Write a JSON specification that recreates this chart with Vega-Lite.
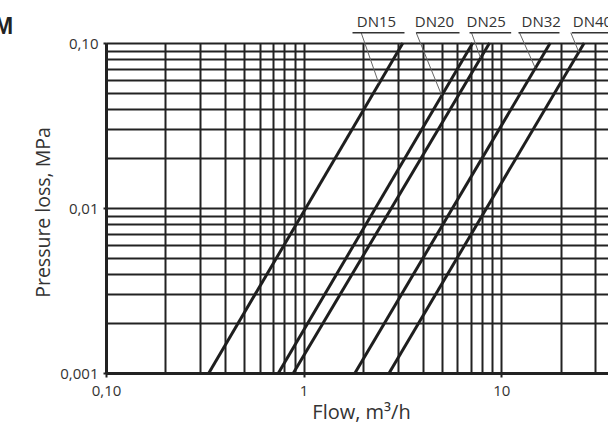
{
  "$schema": "https://vega.github.io/schema/vega-lite/v6.json",
  "width": 510,
  "height": 330,
  "autosize": "none",
  "padding": {"left": 106, "top": 43, "right": 0, "bottom": 51},
  "background": "white",
  "view": {"stroke": null},
  "title": {"text": "M", "anchor": "start", "frame": "group", "dx": -112, "dy": 24, "fontSize": 23, "font": "Liberation Sans", "fontWeight": "bold", "color": "#222", "offset": 0},
  "datasets": {
    "curves": [
      {"s": "DN15", "q": 0.3315, "p": 0.001}, {"s": "DN15", "q": 3.18, "p": 0.1},
      {"s": "DN20", "q": 0.746, "p": 0.001}, {"s": "DN20", "q": 7.17, "p": 0.1},
      {"s": "DN25", "q": 0.888, "p": 0.001}, {"s": "DN25", "q": 8.73, "p": 0.1},
      {"s": "DN32", "q": 1.82, "p": 0.001}, {"s": "DN32", "q": 17.7, "p": 0.1},
      {"s": "DN40", "q": 2.71, "p": 0.001}, {"s": "DN40", "q": 26.3, "p": 0.1}
    ],
    "labels": [
      {"s": "DN15", "tq": 2.339, "tp": 0.1255, "uq1": 1.768, "uq2": 3.24, "up": 0.1154, "lq1": 1.956, "lp1": 0.1154, "lq2": 2.4, "lp2": 0.057},
      {"s": "DN20", "tq": 4.597, "tp": 0.1255, "uq1": 3.714, "uq2": 6.152, "up": 0.1154, "lq1": 3.714, "lp1": 0.1154, "lq2": 4.989, "lp2": 0.04841},
      {"s": "DN25", "tq": 8.395, "tp": 0.1255, "uq1": 6.914, "uq2": 11.23, "up": 0.1154, "lq1": 7.076, "lp1": 0.1154, "lq2": 7.862, "lp2": 0.08111},
      {"s": "DN32", "tq": 15.94, "tp": 0.1255, "uq1": 12.23, "uq2": 19.72, "up": 0.1154, "lq1": 12.38, "lp1": 0.1154, "lq2": 14.87, "lp2": 0.07058},
      {"s": "DN40", "tq": 28.97, "tp": 0.1255, "uq1": 22.75, "uq2": 39.7, "up": 0.1154, "lq1": 22.5, "lp1": 0.1154, "lq2": 24.7, "lp2": 0.0882}
    ]
  },
  "layer": [
    {
      "data": {"name": "curves"},
      "mark": {"type": "line", "color": "#1e1e1e", "strokeWidth": 3, "clip": false},
      "encoding": {
        "x": {
          "field": "q", "type": "quantitative", "title": "Flow, m³/h",
          "scale": {"type": "log", "domain": [0.1, 38.1], "nice": false},
          "axis": {
            "values": [0.1, 0.2, 0.3, 0.4, 0.5, 0.6, 0.7, 0.8, 0.9, 1, 2, 3, 4, 5, 6, 7, 8, 9, 10, 20, 30],
            "grid": true, "gridColor": "#222", "gridWidth": 2, "gridOpacity": 1,
            "domain": true, "domainColor": "#222", "domainWidth": 3,
            "tickColor": "#222", "tickWidth": 2, "tickSize": 4,
            "tickOpacity": {"condition": {"test": "datum.value == 0.1 || datum.value == 1 || datum.value == 10", "value": 1}, "value": 0},
            "labelExpr": "datum.value == 0.1 ? '0,10' : (datum.value == 1 ? '1' : (datum.value == 10 ? '10' : ''))",
            "labelOverlap": false, "labelFlush": false,
            "labelFont": "Open Sans", "labelFontSize": 15, "labelColor": "#333", "labelPadding": 6,
            "titleFont": "Open Sans", "titleFontSize": 20, "titleFontWeight": "normal", "titleColor": "#333", "titlePadding": 4
          }
        },
        "y": {
          "field": "p", "type": "quantitative", "title": "Pressure loss, MPa",
          "scale": {"type": "log", "domain": [0.001, 0.1], "nice": false},
          "axis": {
            "values": [0.001, 0.002, 0.003, 0.004, 0.005, 0.006, 0.007, 0.008, 0.009, 0.01, 0.02, 0.03, 0.04, 0.05, 0.06, 0.07, 0.08, 0.09, 0.1],
            "grid": true, "gridColor": "#222", "gridWidth": 2, "gridOpacity": 1,
            "domain": true, "domainColor": "#222", "domainWidth": 3,
            "tickColor": "#222", "tickWidth": 2, "tickSize": 3,
            "tickOpacity": {"condition": {"test": "datum.value == 0.1 || datum.value == 0.01 || datum.value == 0.001", "value": 1}, "value": 0},
            "labelExpr": "datum.value == 0.1 ? '0,10' : (datum.value == 0.01 ? '0,01' : (datum.value == 0.001 ? '0,001' : ''))",
            "labelOverlap": false, "labelFlush": false,
            "labelFont": "Open Sans", "labelFontSize": 15, "labelColor": "#333", "labelPadding": 5,
            "titleFont": "Open Sans", "titleFontSize": 19.5, "titleFontWeight": "normal", "titleColor": "#333", "titlePadding": 6, "titleY": 169
          }
        },
        "detail": {"field": "s", "type": "nominal"}
      }
    },
    {
      "data": {"name": "labels"},
      "mark": {"type": "rule", "color": "#666", "strokeWidth": 1, "clip": false},
      "encoding": {
        "x": {"field": "lq1", "type": "quantitative", "title": "Flow, m³/h"},
        "y": {"field": "lp1", "type": "quantitative", "title": "Pressure loss, MPa"},
        "x2": {"field": "lq2"},
        "y2": {"field": "lp2"}
      }
    },
    {
      "data": {"name": "labels"},
      "mark": {"type": "rule", "color": "#333", "strokeWidth": 1.3, "clip": false},
      "encoding": {
        "x": {"field": "uq1", "type": "quantitative", "title": "Flow, m³/h"},
        "x2": {"field": "uq2"},
        "y": {"field": "up", "type": "quantitative", "title": "Pressure loss, MPa"}
      }
    },
    {
      "data": {"name": "labels"},
      "mark": {"type": "text", "font": "Open Sans", "fontSize": 15, "color": "#333", "align": "center", "baseline": "alphabetic", "clip": false},
      "encoding": {
        "x": {"field": "tq", "type": "quantitative", "title": "Flow, m³/h"},
        "y": {"field": "tp", "type": "quantitative", "title": "Pressure loss, MPa"},
        "text": {"field": "s", "type": "nominal"}
      }
    }
  ]
}
